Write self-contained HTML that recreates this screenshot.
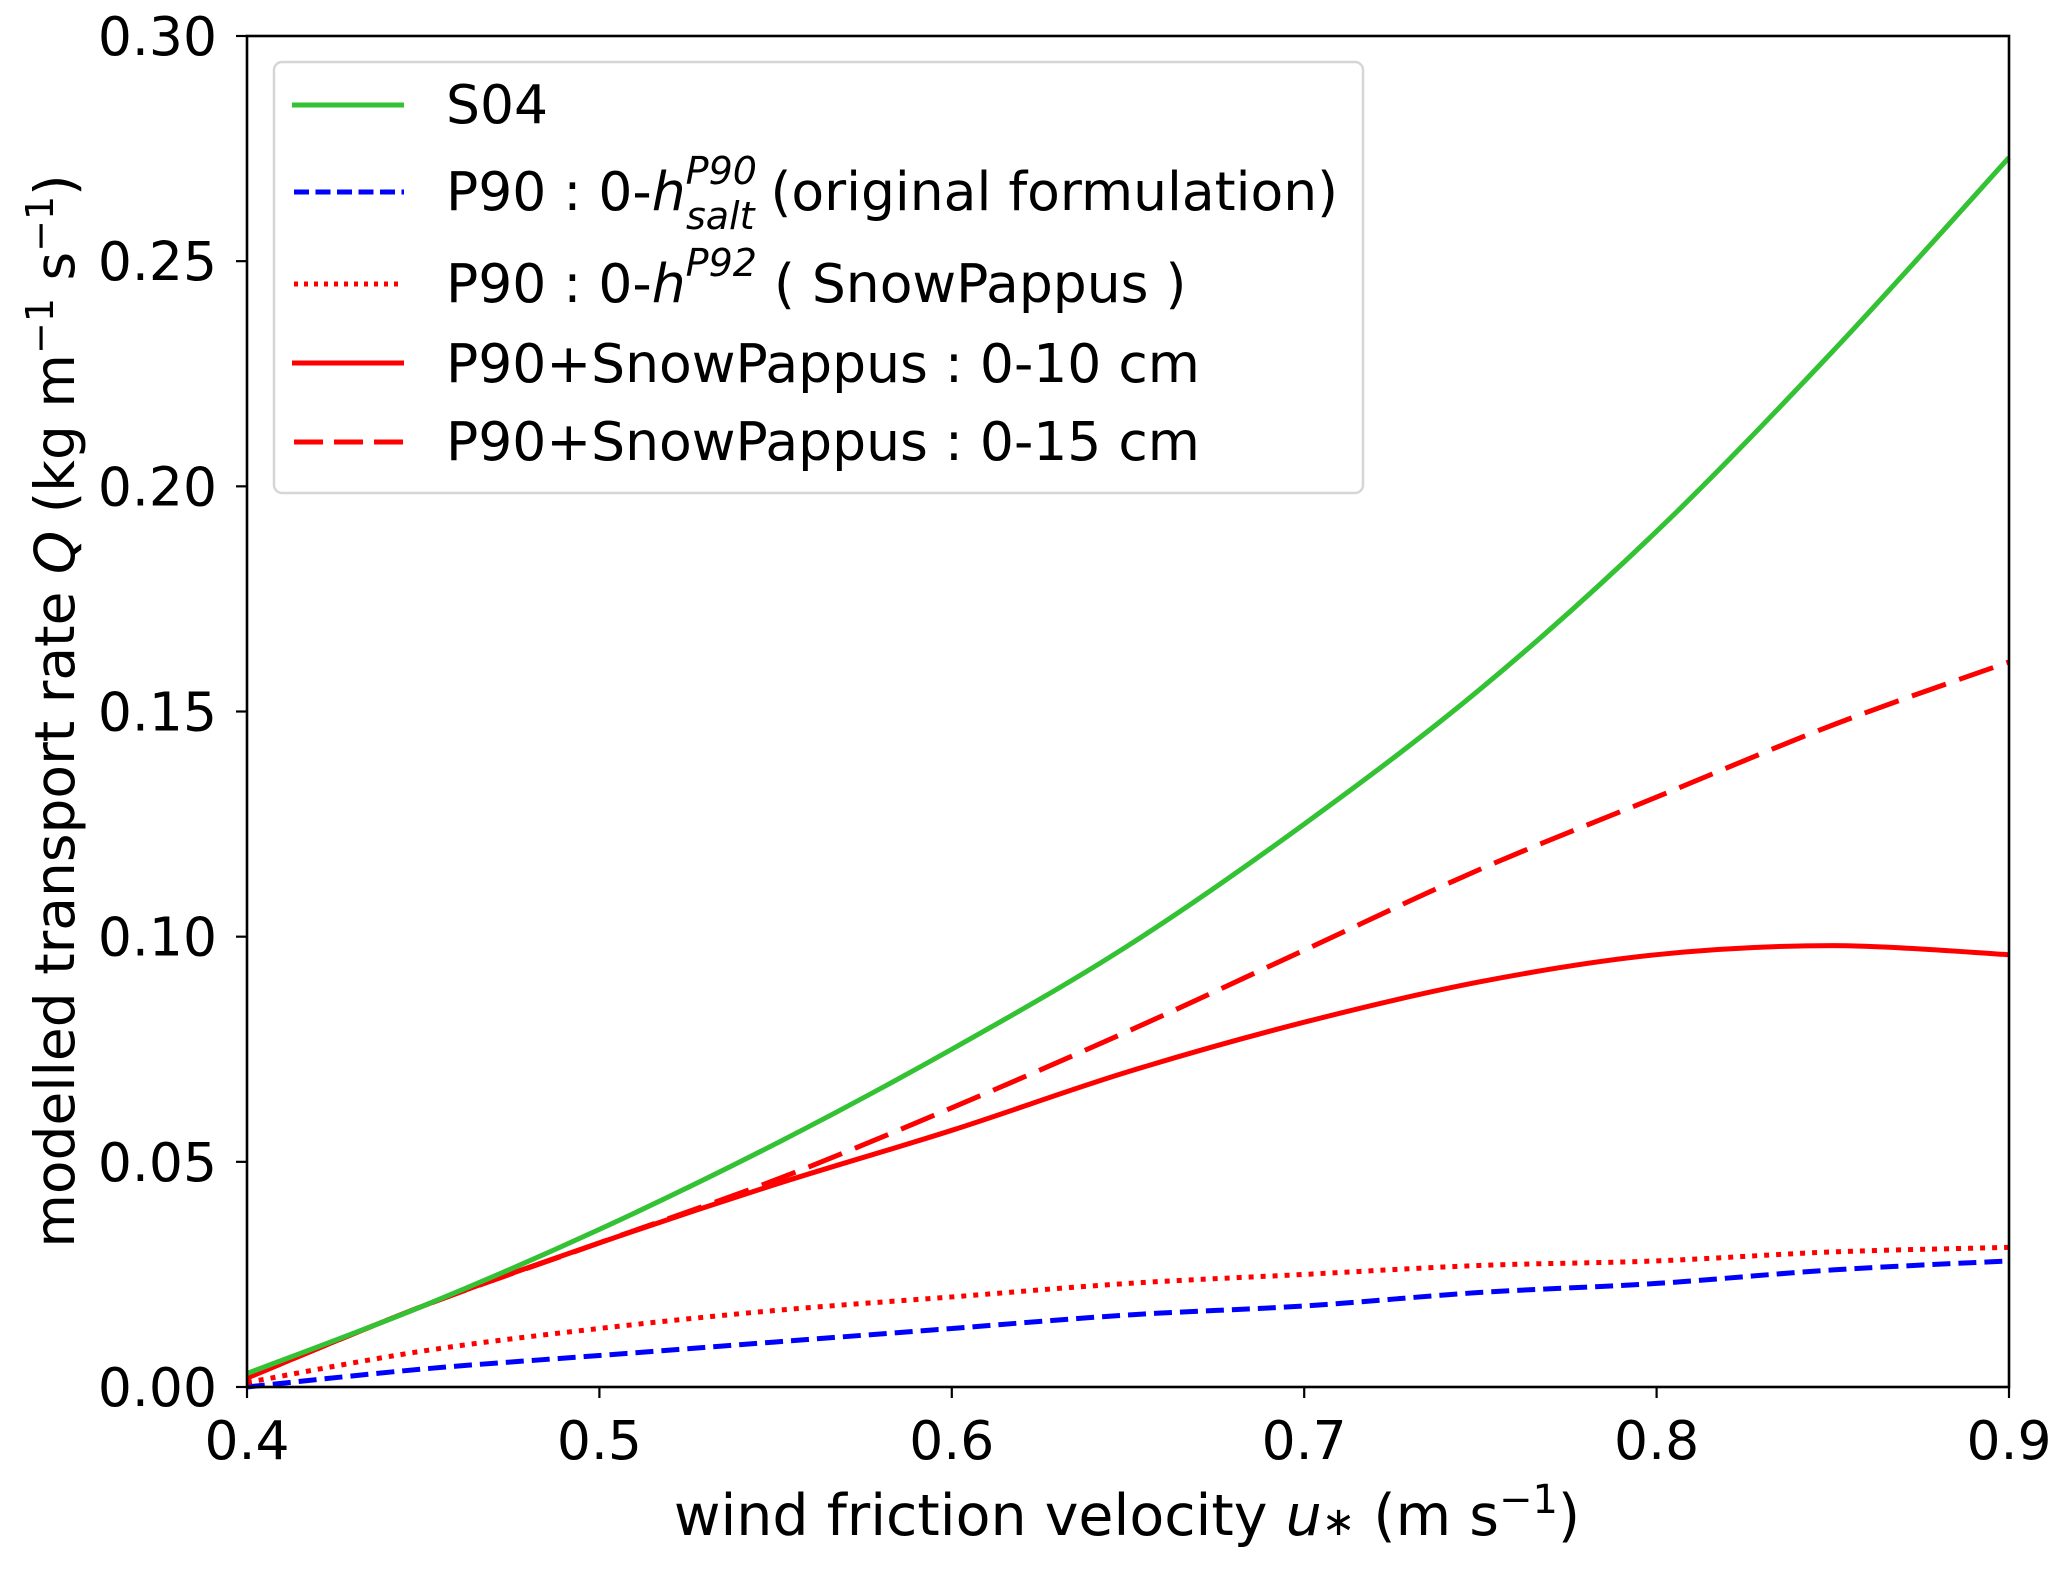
<!DOCTYPE html>
<html><head><meta charset="utf-8"><style>
html,body{margin:0;padding:0;background:#fff;}
svg text{font-family:"DejaVu Sans","Liberation Sans",sans-serif;fill:#000;}
</style></head><body>
<svg id="chart" width="2067" height="1566" viewBox="0 0 2067 1566" xmlns="http://www.w3.org/2000/svg">
<g id="series"></g>
<rect x="247" y="36" width="1762" height="1351" fill="none" stroke="#000" stroke-width="2.6"/>
<g id="ticks"></g>
<text x="1127" y="1535" font-size="57" text-anchor="middle">wind friction velocity <tspan font-style="italic">u</tspan><tspan font-size="40">∗</tspan> (m s<tspan dy="-22" font-size="40">−1</tspan><tspan dy="22">)</tspan></text>
<text transform="translate(74,711) rotate(-90)" font-size="55" text-anchor="middle">modelled transport rate <tspan font-style="italic">Q</tspan> (kg m<tspan dy="-21" font-size="38">−1</tspan><tspan dy="21"> s</tspan><tspan dy="-21" font-size="38">−1</tspan><tspan dy="21">)</tspan></text>
<g>
<rect x="274" y="62" width="1089" height="431" rx="8" fill="#fff" fill-opacity="0.8" stroke="#d6d6d6" stroke-width="2.5"/>
<line x1="292" y1="105" x2="404" y2="105" stroke="#33c233" stroke-width="5"/>
<text x="446" y="123" font-size="53.5">S04</text>
<line x1="294" y1="192" x2="404" y2="192" stroke="#0000ff" stroke-width="5" stroke-dasharray="15,6.5"/>
<text x="446" y="210" font-size="53.5">P90 : 0-<tspan font-style="italic">h</tspan><tspan font-size="38" font-style="italic" dy="-26">P90</tspan><tspan font-size="38" font-style="italic" dx="-71" dy="45">salt</tspan><tspan dy="-19" dx="16">(original formulation)</tspan></text>
<line x1="294" y1="284" x2="404" y2="284" stroke="#ff0000" stroke-width="5" stroke-dasharray="4,6"/>
<text x="446" y="302" font-size="53.5">P90 : 0-<tspan font-style="italic">h</tspan><tspan font-size="38" font-style="italic" dy="-26">P92</tspan><tspan dy="26"> ( SnowPappus )</tspan></text>
<line x1="292" y1="363" x2="404" y2="363" stroke="#ff0000" stroke-width="5"/>
<text x="446" y="382" font-size="53.5">P90+SnowPappus : 0-10 cm</text>
<line x1="294" y1="442" x2="404" y2="442" stroke="#ff0000" stroke-width="5" stroke-dasharray="29,11"/>
<text x="446" y="460" font-size="53.5">P90+SnowPappus : 0-15 cm</text>
</g>
</svg>
<script>
const xValues = [0.40,0.45,0.50,0.55,0.60,0.65,0.70,0.75,0.80,0.85,0.90];
const s04 = [0.003,0.018,0.035,0.054,0.075,0.098,0.125,0.155,0.190,0.230,0.273];
const snow10 = [0.002,0.018,0.032,0.045,0.057,0.070,0.081,0.090,0.096,0.098,0.096];
const snow15 = [0.002,0.018,0.032,0.046,0.062,0.079,0.097,0.115,0.131,0.147,0.161];
const p92 = [0.001,0.008,0.013,0.017,0.020,0.023,0.025,0.027,0.028,0.030,0.031];
const p90 = [0.000,0.004,0.007,0.010,0.013,0.016,0.018,0.021,0.023,0.026,0.028];
const xTicks = ["0.4","0.5","0.6","0.7","0.8","0.9"];
const yTicks = ["0.00","0.05","0.10","0.15","0.20","0.25","0.30"];

const NS = "http://www.w3.org/2000/svg";
const X0=247,X1=2009,Y0=1387,Y1=36;
function xs(v){return X0+(v-0.4)/0.5*(X1-X0);}
function ys(v){return Y0-v/0.30*(Y0-Y1);}
function path(vals){
  const p=xValues.map((x,i)=>[xs(x),ys(vals[i])]);
  let d="M"+p[0][0]+","+p[0][1];
  for(let i=0;i<p.length-1;i++){
    const a=p[Math.max(i-1,0)],b=p[i],c=p[i+1],e=p[Math.min(i+2,p.length-1)];
    d+=" C"+(b[0]+(c[0]-a[0])/6)+","+(b[1]+(c[1]-a[1])/6)+" "+(c[0]-(e[0]-b[0])/6)+","+(c[1]-(e[1]-b[1])/6)+" "+c[0]+","+c[1];
  }
  return d;
}
const g=document.getElementById("series");
function addLine(vals,color,dash,name){
  const el=document.createElementNS(NS,"path");
  el.setAttribute("d",path(vals));
  el.setAttribute("fill","none");
  el.setAttribute("stroke",color);
  el.setAttribute("stroke-width","5");
  if(dash) el.setAttribute("stroke-dasharray",dash);
  
  
  g.appendChild(el);
}
addLine(p90,"#0000ff","18,8","line-p90-original");
addLine(p92,"#ff0000","5,7","line-p90-snowpappus");
addLine(snow15,"#ff0000","36,14","line-snowpappus-15cm");
addLine(snow10,"#ff0000",null,"line-snowpappus-10cm");
addLine(s04,"#33c233",null,"line-s04");

const t=document.getElementById("ticks");
xTicks.forEach(lbl=>{
  const x=xs(parseFloat(lbl));
  const l=document.createElementNS(NS,"line");
  l.setAttribute("x1",x);l.setAttribute("x2",x);l.setAttribute("y1",Y0);l.setAttribute("y2",Y0+11);
  l.setAttribute("stroke","#000");l.setAttribute("stroke-width","2.2");
  
  
  t.appendChild(l);
  const tx=document.createElementNS(NS,"text");
  tx.setAttribute("x",x);tx.setAttribute("y",1459);tx.setAttribute("font-size","53.5");tx.setAttribute("text-anchor","middle");
  tx.textContent=lbl;
  
  
  t.appendChild(tx);
});
yTicks.forEach(lbl=>{
  const y=ys(parseFloat(lbl));
  const l=document.createElementNS(NS,"line");
  l.setAttribute("x1",X0-11);l.setAttribute("x2",X0);l.setAttribute("y1",y);l.setAttribute("y2",y);
  l.setAttribute("stroke","#000");l.setAttribute("stroke-width","2.2");
  
  
  t.appendChild(l);
  const tx=document.createElementNS(NS,"text");
  tx.setAttribute("x",217);tx.setAttribute("y",y+19);tx.setAttribute("font-size","53.5");tx.setAttribute("text-anchor","end");
  tx.textContent=lbl;
  
  
  t.appendChild(tx);
});
</script>
</body></html>
